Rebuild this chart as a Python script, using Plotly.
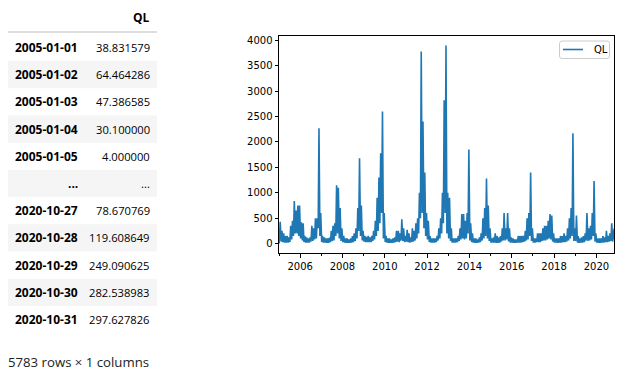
import pandas as pd
import plotly.graph_objects as go

# ---------------- data ----------------
column_name = "QL"
n_rows = 5783
head_dates = ["2005-01-01", "2005-01-02", "2005-01-03", "2005-01-04", "2005-01-05"]
head_values = [38.831579, 64.464286, 47.386585, 30.100000, 4.000000]
tail_dates = ["2020-10-27", "2020-10-28", "2020-10-29", "2020-10-30", "2020-10-31"]
tail_values = [78.670769, 119.608649, 249.090625, 282.538983, 297.627826]

# monthly envelope (Jan 2005 .. Oct 2020), one line per year
monthly_high = [
    430, 250, 200, 150, 150, 120, 350, 450, 840, 650, 750, 750,      # 2005
    420, 400, 150, 120, 100, 120, 350, 300, 500, 500, 2270, 600,     # 2006
    150, 120, 100, 100, 120, 250, 350, 400, 1150, 1100, 700, 300,    # 2007
    150, 100, 100, 80, 100, 150, 200, 300, 700, 1680, 750, 250,      # 2008
    150, 130, 150, 120, 150, 250, 450, 900, 1300, 1780, 2600, 600,   # 2009
    150, 100, 100, 80, 100, 120, 250, 250, 200, 480, 300, 150,       # 2010
    270, 200, 120, 300, 250, 400, 500, 1000, 3780, 2400, 1400, 600,  # 2011
    450, 150, 100, 100, 100, 150, 300, 500, 1000, 2820, 3900, 1000,  # 2012
    900, 300, 100, 100, 100, 150, 300, 580, 580, 450, 600, 1850,     # 2013
    400, 200, 100, 100, 80, 120, 200, 500, 700, 1280, 750, 300,      # 2014
    100, 120, 200, 150, 120, 150, 300, 600, 300, 600, 300, 120,      # 2015
    100, 80, 80, 150, 150, 150, 150, 250, 500, 600, 1400, 300,       # 2016
    100, 100, 200, 200, 200, 300, 350, 350, 450, 580, 550, 200,      # 2017
    100, 100, 100, 150, 150, 200, 150, 300, 500, 700, 2170, 300,     # 2018
    550, 150, 100, 120, 150, 200, 600, 300, 350, 600, 1230, 200,     # 2019
    100, 100, 100, 150, 120, 250, 150, 200, 400, 250,                # 2020
]
monthly_low = [
    20, 40, 30, 20, 20, 20, 30, 80, 150, 200, 200, 150,
    100, 60, 30, 20, 20, 20, 40, 50, 80, 100, 300, 150,
    30, 20, 20, 15, 15, 30, 50, 60, 150, 200, 100, 50,
    30, 20, 15, 15, 15, 20, 30, 50, 100, 250, 150, 60,
    40, 30, 30, 30, 30, 50, 80, 150, 250, 400, 600, 100,
    30, 20, 15, 15, 15, 20, 30, 40, 30, 60, 50, 30,
    40, 30, 20, 30, 40, 60, 100, 200, 500, 600, 300, 150,
    80, 30, 20, 20, 20, 30, 60, 100, 200, 400, 600, 200,
    100, 50, 20, 20, 20, 30, 50, 80, 100, 80, 100, 200,
    60, 30, 20, 15, 15, 20, 30, 60, 100, 150, 100, 50,
    20, 20, 20, 15, 15, 20, 40, 60, 60, 80, 40, 20,
    20, 15, 15, 20, 20, 20, 30, 40, 60, 80, 150, 50,
    20, 20, 30, 30, 30, 50, 60, 60, 80, 100, 80, 40,
    20, 20, 15, 20, 20, 30, 30, 40, 60, 100, 150, 50,
    50, 20, 15, 20, 20, 30, 60, 50, 60, 80, 150, 40,
    20, 15, 15, 20, 20, 30, 30, 40, 50, 40,
]

# ---------------- build series ----------------
month_starts = pd.date_range("2005-01-01", "2020-10-01", freq="MS")
pts = [(pd.Timestamp(d), v) for d, v in zip(head_dates, head_values)]
for ms, lo, hi in zip(month_starts, monthly_low, monthly_high):
    pts.append((ms + pd.Timedelta(days=7), lo))
    pts.append((ms + pd.Timedelta(days=21), hi))
pts += [(pd.Timestamp(d), v) for d, v in zip(tail_dates, tail_values)]
pts.sort(key=lambda p: p[0])
xs = [p[0] for p in pts]
ys = [p[1] for p in pts]

# page geometry (browser body has an 8px margin)
OFF = 8
W, H = 639 - OFF, 387 - OFF
L, R, T, B = 279, 614, 36, 253          # plot box in page pixels


def pxx(x):
    return (x - L) / (R - L)


def pxy(y):
    return (B - y) / (B - T)


LINE_COLOR = "#1f77b4"
fig = go.Figure()
fig.add_trace(go.Scatter(x=xs, y=ys, mode="lines", name=column_name,
                         line=dict(color=LINE_COLOR, width=1.6), showlegend=False))

tick_font = dict(family="DejaVu Sans", size=10, color="#000000")
fig.update_layout(
    width=W, height=H,
    margin=dict(l=L - OFF, r=639 - R, t=T - OFF, b=387 - B, pad=0),
    paper_bgcolor="white", plot_bgcolor="white",
    showlegend=False,
    xaxis=dict(range=[head_dates[0], tail_dates[-1]], showgrid=False, zeroline=False,
               showline=True, linecolor="black", linewidth=1, mirror=True,
               ticks="outside", ticklen=3.5, tickcolor="black",
               tick0="2006-01-01", dtick="M24", tickformat="%Y", tickfont=tick_font,
               minor=dict(ticks="outside", ticklen=2, dtick="M12", tick0="2005-01-01",
                          tickcolor="black", showgrid=False)),
    yaxis=dict(range=[-185, 4085], showgrid=False, zeroline=False,
               showline=True, linecolor="black", linewidth=1, mirror=True,
               ticks="outside", ticklen=3.5, tickcolor="black",
               tick0=0, dtick=500, tickfont=tick_font),
)

shapes = []
annotations = []

# ---------------- legend (matplotlib style) ----------------
lx0, lx1, ly0, ly1, rr = 559.5, 609.5, 41, 58.5, 2.5
path = (f"M {pxx(lx0 + rr)},{pxy(ly0)} L {pxx(lx1 - rr)},{pxy(ly0)} "
        f"Q {pxx(lx1)},{pxy(ly0)} {pxx(lx1)},{pxy(ly0 + rr)} "
        f"L {pxx(lx1)},{pxy(ly1 - rr)} Q {pxx(lx1)},{pxy(ly1)} {pxx(lx1 - rr)},{pxy(ly1)} "
        f"L {pxx(lx0 + rr)},{pxy(ly1)} Q {pxx(lx0)},{pxy(ly1)} {pxx(lx0)},{pxy(ly1 - rr)} "
        f"L {pxx(lx0)},{pxy(ly0 + rr)} Q {pxx(lx0)},{pxy(ly0)} {pxx(lx0 + rr)},{pxy(ly0)} Z")
shapes.append(dict(type="path", xref="paper", yref="paper", path=path,
                   fillcolor="rgba(255,255,255,0.8)", line=dict(color="#cccccc", width=1)))
shapes.append(dict(type="line", xref="paper", yref="paper",
                   x0=pxx(563), x1=pxx(583), y0=pxy(49.5), y1=pxy(49.5),
                   line=dict(color=LINE_COLOR, width=1.6)))
annotations.append(dict(xref="paper", yref="paper", x=pxx(591.5), y=pxy(49.5),
                        xanchor="left", yanchor="middle", showarrow=False,
                        text=column_name,
                        font=dict(family="DejaVu Sans", size=10, color="#000000")))

# ---------------- dataframe table ----------------
row_labels = head_dates + ["..."] + tail_dates
row_values = [f"{v:.6f}" for v in head_values] + ["..."] + [f"{v:.6f}" for v in tail_values]
row0, row_h = 47.5, 27.2
tx0, tx1 = 7, 157

for i, (lab, val) in enumerate(zip(row_labels, row_values)):
    cy = row0 + i * row_h
    if i % 2 == 1:
        shapes.append(dict(type="rect", xref="paper", yref="paper",
                           x0=pxx(tx0), x1=pxx(tx1), y0=pxy(cy - row_h / 2), y1=pxy(cy + row_h / 2),
                           fillcolor="#f5f5f5", line=dict(width=0), layer="below"))
    annotations.append(dict(xref="paper", yref="paper", x=pxx(80), y=pxy(cy),
                            xanchor="right", yanchor="middle", showarrow=False,
                            text=f"<b>{lab}</b>",
                            font=dict(family="Open Sans", size=12, color="#000000")))
    annotations.append(dict(xref="paper", yref="paper", x=pxx(152), y=pxy(cy),
                            xanchor="right", yanchor="middle", showarrow=False,
                            text=val,
                            font=dict(family="Open Sans", size=11.2, color="#000000")))

shapes.append(dict(type="line", xref="paper", yref="paper",
                   x0=pxx(tx0), x1=pxx(tx1), y0=pxy(32), y1=pxy(32),
                   line=dict(color="#bdbdbd", width=1)))
annotations.append(dict(xref="paper", yref="paper", x=pxx(152), y=pxy(18),
                        xanchor="right", yanchor="middle", showarrow=False,
                        text=f"<b>{column_name}</b>",
                        font=dict(family="Open Sans", size=12, color="#000000")))
annotations.append(dict(xref="paper", yref="paper", x=pxx(6), y=pxy(362),
                        xanchor="left", yanchor="middle", showarrow=False,
                        text=f"{n_rows} rows × 1 columns",
                        font=dict(family="Open Sans", size=13.2, color="#222222")))

fig.update_layout(shapes=shapes, annotations=annotations)
fig.write_html("out.html", config={"displayModeBar": False})
